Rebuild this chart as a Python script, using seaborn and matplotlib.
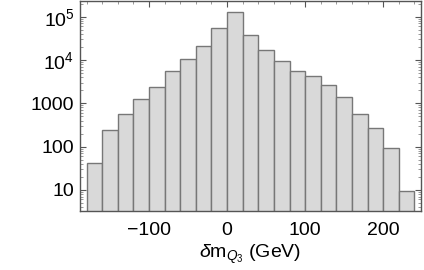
import numpy as np
import pandas as pd
import matplotlib
matplotlib.use("Agg")
import matplotlib.pyplot as plt
import matplotlib.ticker as mticker
import seaborn as sns

bin_edges = [-180, -160, -140, -120, -100, -80, -60, -40, -20, 0, 20, 40, 60, 80,
             100, 120, 140, 160, 180, 200, 220, 240]
counts = [41, 239, 578, 1236, 2373, 5640, 10260, 21200, 55800, 130000, 37200,
          16800, 9400, 5530, 4180, 2690, 1400, 569, 266, 92, 9.2]
y_ticks = [10, 100, 1000, 1e4, 1e5]
y_tick_labels = ["10", "100", "1000", r"$10^4$", r"$10^5$"]
x_ticks = [-100, 0, 100, 200]
x_tick_labels = ["\u2212100", "0", "100", "200"]

centers = [(a + b) / 2 for a, b in zip(bin_edges[:-1], bin_edges[1:])]
df = pd.DataFrame({"dm": centers, "count": counts})

sns.set_theme(style="ticks")
plt.rcParams["font.family"] = ["Liberation Sans", "DejaVu Sans"]
plt.rcParams["mathtext.fontset"] = "custom"
plt.rcParams["mathtext.rm"] = "Liberation Sans"
plt.rcParams["mathtext.it"] = "Liberation Sans:italic"

fig = plt.figure(figsize=(4.24, 2.70), dpi=100)
ax = fig.add_axes([80 / 424, 1 - 210.5 / 270, (421 - 80) / 424, (209.5) / 270])

sns.histplot(data=df, x="dm", weights="count", bins=bin_edges, ax=ax,
             color="#d9d9d9", edgecolor="#777777", linewidth=1.0, alpha=1.0)
ax.set_yscale("log")
ax.set_xlim(-188.4, 248.4)
ax.set_ylim(3.34, 2.3e5)

ax.set_xticks(x_ticks)
ax.set_xticklabels(x_tick_labels)
ax.xaxis.set_minor_locator(mticker.MultipleLocator(20))
ax.set_yticks(y_ticks)
ax.set_yticklabels(y_tick_labels)
ax.yaxis.set_minor_locator(mticker.LogLocator(base=10, subs=np.arange(2, 10)))
ax.yaxis.set_minor_formatter(mticker.NullFormatter())

ax.tick_params(axis="both", which="major", direction="in", length=4, width=0.8,
               color="#555555", labelsize=14, labelcolor="black", pad=4,
               top=True, right=True)
ax.tick_params(axis="both", which="minor", direction="in", length=2, width=0.6,
               color="#888888", top=True, right=True)
ax.tick_params(axis="x", which="major", pad=8)

for side in ["left", "bottom", "top", "right"]:
    ax.spines[side].set_visible(True)
    ax.spines[side].set_color("#555555")
    ax.spines[side].set_linewidth(1.0)

ax.set_ylabel("")
ax.set_xlabel(r"$\delta$m$_{Q_3}$ (GeV)", fontsize=14, color="black", labelpad=3)

fig.savefig("out.png", dpi=100)
